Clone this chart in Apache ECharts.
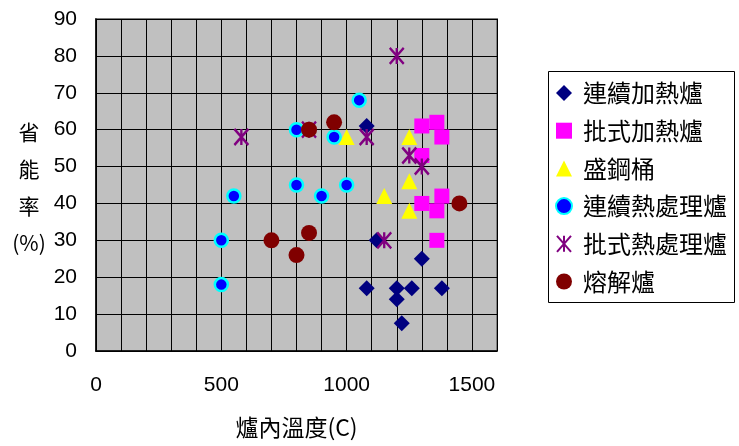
<!DOCTYPE html>
<html><head><meta charset="utf-8">
<script src="https://cdn.jsdelivr.net/npm/echarts@6/dist/echarts.min.js"></script>
<style>html,body{margin:0;padding:0;background:#fff}#c{width:739px;height:446px}</style>
</head><body><div id="c"></div>
<script>
// Series names
const seriesNames = ['連續加熱爐', '批式加熱爐', '盛鋼桶', '連續熱處理爐', '批式熱處理爐', '熔解爐'];
// [溫度, 省能率]
const contHeating = [[1080,61],[1120,30],[1300,25],[1080,17],[1200,17],[1260,17],[1380,17],[1200,14],[1220,7.5]];
const batchHeating = [[1300,61],[1360,62],[1380,58],[1300,53],[1300,40],[1380,42],[1360,38],[1360,30]];
const ladle = [[1000,58],[1250,58],[1250,46],[1150,42],[1250,38]];
const contHeatTreat = [[800,60],[1050,68],[950,58],[550,42],[500,30],[500,18],[800,45],[900,42],[1000,45]];
const batchHeatTreat = [[580,58],[1200,80],[1080,58],[1250,53],[1300,50],[850,60],[1150,30]];
const melting = [[850,60],[950,62],[1450,40],[850,32],[800,26],[700,30]];
const xTickLabels = [0, 500, 1000, 1500];
const yTickLabels = [0,10,20,30,40,50,60,70,80,90];

const FONT = '"Liberation Sans", Arial, sans-serif';
const CJK = '"Noto Sans CJK TC", "Liberation Sans", sans-serif';
const starPath = 'path://M0,0L14,16M14,0L0,16M7,0L7,16';

const chart = echarts.init(document.getElementById('c'));
chart.setOption({
  animation: false,
  grid: {left: 96, top: 19, width: 401, height: 332, show: true,
         backgroundColor: '#c0c0c0', borderColor: '#808080', borderWidth: 2},
  xAxis: {type: 'value', min: 0, max: 1600, interval: 100,
    axisLine: {show: true, lineStyle: {color: '#000', width: 1.5}},
    axisTick: {show: false},
    splitLine: {show: true, lineStyle: {color: '#000', width: 1}},
    axisLabel: {margin: 24, color: '#000', fontSize: 21, fontFamily: FONT,
      formatter: v => xTickLabels.includes(v) ? String(v) : '', showMaxLabel: true},
    name: '爐內溫度(C)', nameLocation: 'middle', nameGap: 65,
    nameTextStyle: {color: '#000', fontSize: 23, fontFamily: CJK}
  },
  yAxis: {type: 'value', min: 0, max: 90, interval: 10,
    axisLine: {show: true, lineStyle: {color: '#000', width: 1.5}},
    axisTick: {show: false},
    splitLine: {show: true, lineStyle: {color: '#000', width: 1}},
    axisLabel: {margin: 19, color: '#000', fontSize: 21, fontFamily: FONT,
      formatter: v => yTickLabels.includes(v) ? String(v) : ''}
  },
  graphic: [
    {type: 'rect', left: 548, top: 71, shape: {width: 186, height: 231},
     style: {fill: '#fff', stroke: '#000', lineWidth: 1}, z: -1},
    {type: 'text', x: 29, y: 188,
     style: {text: '省\n能\n率\n(%)', fill: '#000', fontSize: 21, lineHeight: 37,
       fontFamily: CJK, align: 'center', verticalAlign: 'middle'}}
  ],
  legend: {orient: 'vertical', left: 555, top: 81, padding: 0,
    itemWidth: 16, itemHeight: 16, itemGap: 13.7,
    textStyle: {fontSize: 24, lineHeight: 24, color: '#000', fontFamily: CJK, padding: [0,0,0,6]},
    data: seriesNames},
  series: [
    {name: seriesNames[0], type: 'scatter', data: contHeating, symbol: 'diamond', symbolSize: 16,
     itemStyle: {color: '#000080', opacity: 1}},
    {name: seriesNames[1], type: 'scatter', data: batchHeating, symbol: 'rect', symbolSize: 15,
     itemStyle: {color: '#ff00ff', opacity: 1}},
    {name: seriesNames[2], type: 'scatter', data: ladle, symbol: 'triangle', symbolSize: 16,
     itemStyle: {color: '#ffff00', opacity: 1}},
    {name: seriesNames[3], type: 'scatter', data: contHeatTreat, symbol: 'circle', symbolSize: 13,
     itemStyle: {color: '#0000ff', borderColor: '#00ffff', borderWidth: 2.5, opacity: 1}},
    {name: seriesNames[4], type: 'scatter', data: batchHeatTreat, symbol: starPath, symbolSize: [14,16],
     itemStyle: {color: 'rgba(0,0,0,0)', borderColor: '#800080', borderWidth: 2.5, opacity: 1}},
    {name: seriesNames[5], type: 'scatter', data: melting, symbol: 'circle', symbolSize: 16,
     itemStyle: {color: '#800000', opacity: 1}}
  ]
});
</script></body></html>
